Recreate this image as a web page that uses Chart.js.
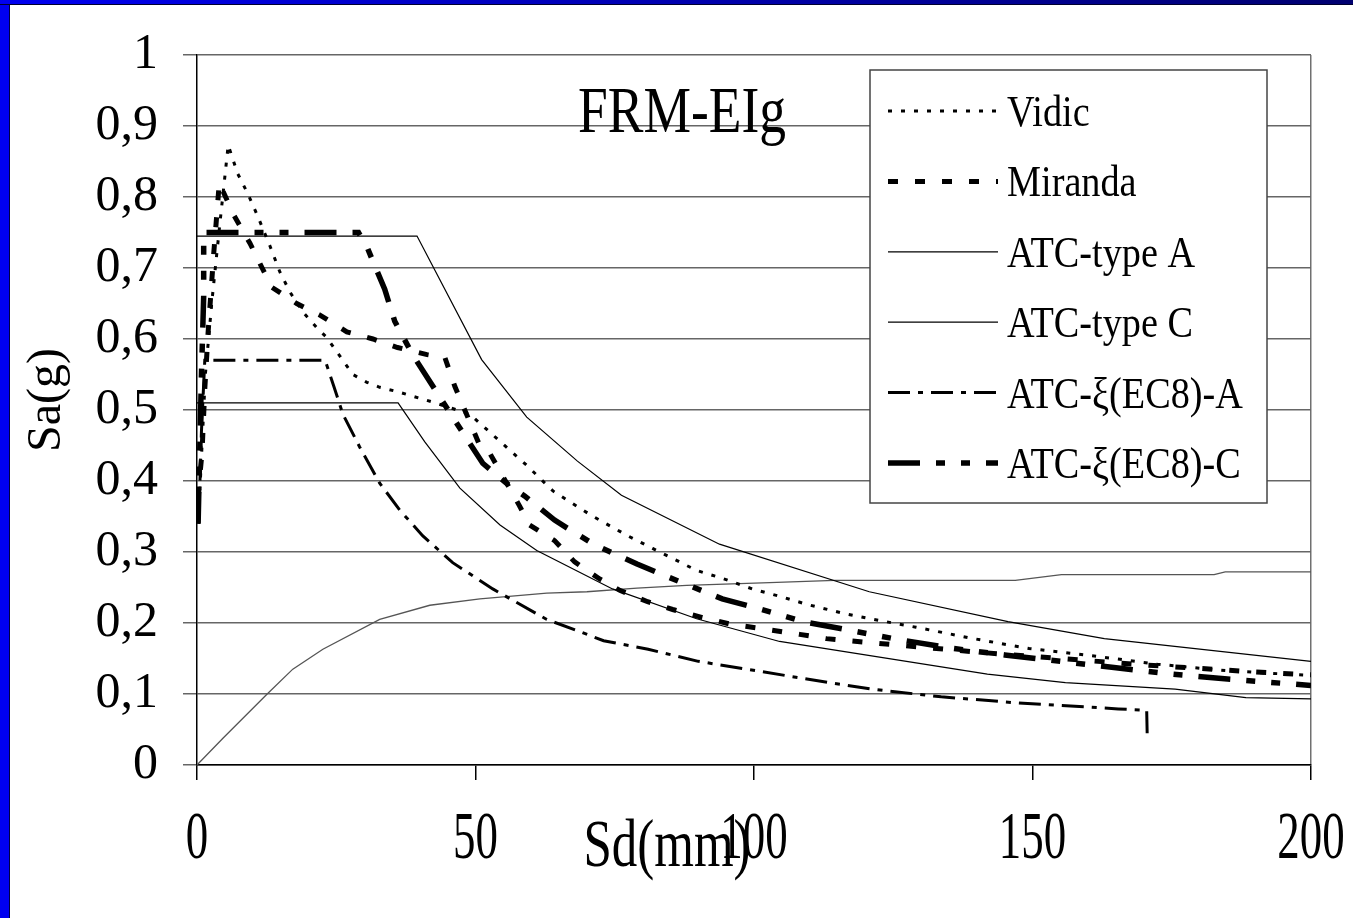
<!DOCTYPE html>
<html>
<head>
<meta charset="utf-8">
<title>FRM-EIg</title>
<script src="https://cdn.jsdelivr.net/npm/chart.js@4.4.0/dist/chart.umd.min.js"></script>
<style>
  html, body { margin: 0; padding: 0; background: #fff; }
  #frame { position: relative; width: 1353px; height: 918px; overflow: hidden; background: #fff; }
  #leftBar { position: absolute; left: 0; top: 0; width: 9px; height: 918px; background: #0000f0; border-right: 1px solid #000040; }
  #topBar { position: absolute; left: 0; top: 0; width: 1353px; height: 4px; background: linear-gradient(to right, #0000f0, #000070); border-bottom: 1px solid #000030; }
  #myChart { position: absolute; left: 0; top: 0; }
</style>
</head>
<body>
<div id="frame">
  <div id="leftBar"></div>
  <div id="topBar"></div>
  <canvas id="myChart" width="1353" height="918"></canvas>
</div>
<script>
// tick labels
var xTickLabels = ['0', '50', '100', '150', '200'];
var yTickLabels = ['0', '0,1', '0,2', '0,3', '0,4', '0,5', '0,6', '0,7', '0,8', '0,9', '1'];

// Vidic
var vidicSd = [0.3, 1.5, 2.7, 4.1, 5.6, 7.3, 9.1, 10.9, 13.1, 14.9, 16.7, 19, 21.5, 23.3, 25.1, 28, 30.5, 32.8, 35.9, 42.4,
               49, 53.1, 59.2, 63.9, 70.9, 77.3, 81.8, 89.7, 94.3, 99.7, 104.9, 109.6, 116.4, 121.5, 129.1, 139.4, 149.4, 161.6, 172.4, 183,
               191, 200];
var vidicSa = [0.35, 0.55, 0.655, 0.762, 0.873, 0.833, 0.805, 0.773, 0.731, 0.694, 0.666, 0.638, 0.616, 0.602, 0.582, 0.55, 0.539, 0.532, 0.526, 0.511,
               0.494, 0.465, 0.422, 0.386, 0.351, 0.323, 0.305, 0.274, 0.263, 0.248, 0.237, 0.226, 0.213, 0.205, 0.194, 0.178, 0.164, 0.153, 0.142, 0.134,
               0.13, 0.126];

// Miranda
var mirandaSd = [0.1, 0.3, 0.9, 1.4, 2.0, 3.0, 4.0, 6.5, 9.5, 11.7, 13.4, 17.9, 22, 26.9, 31.6, 36, 41.3, 44.5, 46.3, 50.6,
                 52.5, 57.9, 59.7, 64.2, 67.8, 72.3, 75.9, 80.9, 85.4, 90.6, 96, 101.5, 108.2, 113, 120, 130, 140, 150, 160, 170,
                 180, 190, 200];
var mirandaSa = [0.34, 0.39, 0.44, 0.53, 0.61, 0.72, 0.82, 0.776, 0.735, 0.70, 0.673, 0.65, 0.634, 0.61, 0.60, 0.588, 0.578, 0.574, 0.533, 0.453,
                 0.44, 0.365, 0.338, 0.316, 0.286, 0.262, 0.246, 0.23, 0.219, 0.208, 0.198, 0.192, 0.184, 0.178, 0.173, 0.166, 0.159, 0.153, 0.147, 0.141,
                 0.136, 0.131, 0.127];

// ATC-type A
var typeASd = [0, 39.5, 51.1, 59.2, 68.3, 76.2, 93.8, 120.7, 145.6, 162.9, 200];
var typeASa = [0.745, 0.745, 0.571, 0.49, 0.428, 0.38, 0.311, 0.244, 0.202, 0.178, 0.146];

// ATC-type C
var typeCSd = [0, 36.1, 40.9, 47.2, 54.4, 61, 74.6, 89.7, 104.6, 141.9, 155.9, 175.6, 188.3, 200];
var typeCSa = [0.51, 0.51, 0.455, 0.39, 0.338, 0.302, 0.248, 0.206, 0.174, 0.128, 0.116, 0.107, 0.095, 0.093];

// ATC-xi(EC8)-A
var xiASd = [0.3, 0.8, 1.4, 23, 24.5, 26.2, 29.2, 32.8, 36.4, 40.5, 45.9, 53.1, 62.8, 68.7, 73, 81, 90, 101, 113.5, 121,
             133.6, 146.4, 165.4, 170.5, 170.6];
var xiASa = [0.34, 0.47, 0.57, 0.57, 0.535, 0.494, 0.448, 0.397, 0.359, 0.323, 0.285, 0.248, 0.205, 0.188, 0.175, 0.163, 0.146, 0.132, 0.116, 0.107,
             0.096, 0.088, 0.079, 0.077, 0.04];

// ATC-xi(EC8)-C
var xiCSd = [0.2, 0.8, 1.2, 1.2, 29, 30.5, 33.7, 35.5, 38.7, 45.9, 51.3, 56, 58.8, 64.2, 66.4, 71.4, 79, 86.7, 94.3, 101.4,
             108.8, 116.4, 125, 135, 145, 155, 165, 175, 185, 200];
var xiCSa = [0.34, 0.55, 0.66, 0.75, 0.75, 0.73, 0.67, 0.625, 0.578, 0.49, 0.425, 0.394, 0.379, 0.345, 0.334, 0.31, 0.283, 0.258, 0.234, 0.219,
             0.202, 0.191, 0.178, 0.165, 0.155, 0.146, 0.137, 0.128, 0.121, 0.112];

// courbe de capacite (pas dans la legende)
var capSd = [0, 4.7, 12.6, 17.2, 22.6, 32.8, 41.8, 50.8, 62.8, 70, 79, 87.9, 102.8, 114.5, 146.9, 155.2, 182.6, 184.6, 200];
var capSa = [0, 0.038, 0.1, 0.135, 0.163, 0.205, 0.225, 0.234, 0.242, 0.244, 0.249, 0.253, 0.257, 0.26, 0.26, 0.268, 0.268, 0.272, 0.272];

function pts(xs, ys) {
    return xs.map(function(x, i) { return { x: x, y: ys[i] }; });
}

var serif = '"Liberation Serif", "Times New Roman", serif';

// texte etroit comme dans l'original
function narrowText(ctx, text, x, y, size, sx, align) {
    ctx.save();
    ctx.font = size + 'px ' + serif;
    ctx.textAlign = align || 'left';
    ctx.textBaseline = 'alphabetic';
    ctx.translate(x, y);
    ctx.scale(sx, 1);
    ctx.fillText(text, 0, 0);
    ctx.restore();
}

var overlay = {
    id: 'overlay',
    afterDraw: function(chart) {
        var ctx = chart.ctx;
        var xs = chart.scales.x;
        ctx.save();
        ctx.fillStyle = '#000';

        // x tick labels
        xs.ticks.forEach(function(t, i) {
            narrowText(ctx, xTickLabels[i], xs.getPixelForValue(t.value), 858, 68, 0.66, 'center');
        });

        // axis titles
        narrowText(ctx, 'Sd(mm)', 667, 866, 68, 0.75, 'center');
        ctx.save();
        ctx.translate(60, 400);
        ctx.rotate(-Math.PI / 2);
        ctx.font = '48px ' + serif;
        ctx.textAlign = 'center';
        ctx.textBaseline = 'alphabetic';
        ctx.fillText('Sa(g)', 0, 0);
        ctx.restore();

        // chart label
        narrowText(ctx, 'FRM-EIg', 578, 132, 66, 0.81, 'left');

        // legend box
        var lx = 870, ly = 70, lw = 397, lh = 433;
        ctx.fillStyle = '#fff';
        ctx.fillRect(lx, ly, lw, lh);
        ctx.strokeStyle = '#444';
        ctx.lineWidth = 1.5;
        ctx.strokeRect(lx, ly, lw, lh);

        var row = 0;
        chart.data.datasets.forEach(function(ds) {
            if (!ds.label) return;
            var cy = 111 + row * 70.4;
            ctx.beginPath();
            ctx.setLineDash(ds.borderDash || []);
            ctx.lineWidth = ds.borderWidth;
            ctx.strokeStyle = ds.borderColor;
            ctx.moveTo(888, cy);
            ctx.lineTo(998, cy);
            ctx.stroke();
            ctx.setLineDash([]);
            ctx.fillStyle = '#000';
            narrowText(ctx, ds.label, 1007, cy + 15, 45, 0.85, 'left');
            row++;
        });
        ctx.restore();
    }
};

var ctx = document.getElementById('myChart').getContext('2d');
var myChart = new Chart(ctx, {
    type: 'line',
    data: {
        datasets: [{
            label: 'Vidic',
            data: pts(vidicSd, vidicSa),
            borderColor: '#000',
            borderWidth: 3,
            borderDash: [4, 9]
        }, {
            label: 'Miranda',
            data: pts(mirandaSd, mirandaSa),
            borderColor: '#000',
            borderWidth: 5,
            borderDash: [10, 17]
        }, {
            label: 'ATC-type A',
            data: pts(typeASd, typeASa),
            borderColor: '#000',
            borderWidth: 1.2
        }, {
            label: 'ATC-type C',
            data: pts(typeCSd, typeCSa),
            borderColor: '#000',
            borderWidth: 1.2
        }, {
            label: 'ATC-ξ(EC8)-A',
            data: pts(xiASd, xiASa),
            borderColor: '#000',
            borderWidth: 3,
            borderDash: [22, 8, 5, 8]
        }, {
            label: 'ATC-ξ(EC8)-C',
            data: pts(xiCSd, xiCSa),
            borderColor: '#000',
            borderWidth: 5.5,
            borderDash: [32, 16, 9, 16, 9, 16]
        }, {
            label: '',
            data: pts(capSd, capSa),
            borderColor: '#555',
            borderWidth: 1.3
        }]
    },
    options: {
        responsive: false,
        animation: false,
        layout: { padding: { left: 0, top: 47, right: 42, bottom: 0 } },
        elements: {
            point: { radius: 0 },
            line: { tension: 0, fill: false }
        },
        plugins: {
            legend: { display: false },
            tooltip: { enabled: false }
        },
        scales: {
            x: {
                type: 'linear',
                min: 0,
                max: 200,
                ticks: { stepSize: 50, display: false },
                grid: {
                    color: function(c) { return c.tick && c.tick.value === 200 ? '#707070' : 'rgba(0,0,0,0)'; },
                    tickColor: '#000',
                    tickLength: 15,
                    lineWidth: 1.5
                },
                border: { color: '#000', width: 1.5 },
                afterFit: function(scale) { scale.height = 153; }
            },
            y: {
                min: 0,
                max: 1,
                ticks: {
                    stepSize: 0.1,
                    padding: 25,
                    color: '#000',
                    font: { family: serif, size: 50 },
                    callback: function(v, i) { return yTickLabels[i]; }
                },
                grid: {
                    color: '#666',
                    tickColor: '#666',
                    tickLength: 14,
                    lineWidth: 1.5
                },
                border: { color: '#000', width: 1.5 },
                afterFit: function(scale) { scale.width = 197; }
            }
        }
    },
    plugins: [overlay]
});
</script>
</body>
</html>
